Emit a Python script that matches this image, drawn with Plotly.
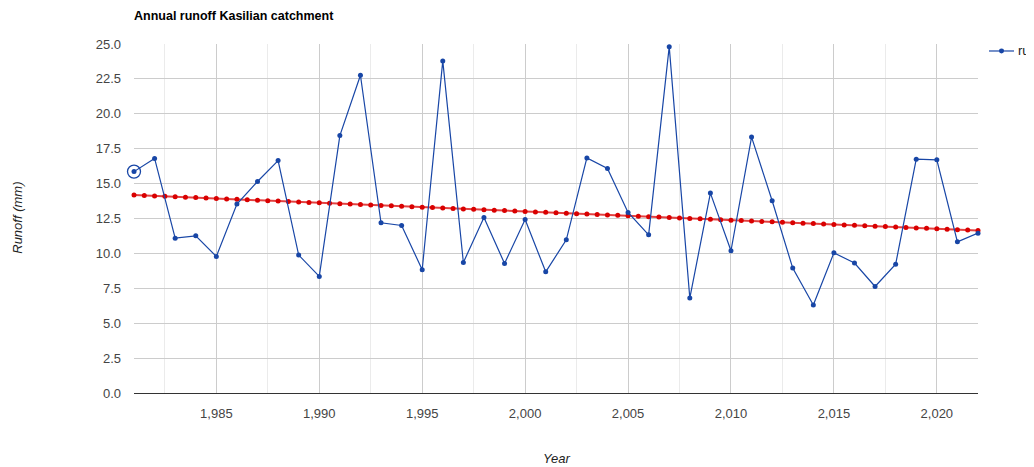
import numpy as np
import plotly.graph_objects as go

years = list(range(1981, 2023))
runoff = [15.86, 16.80, 11.09, 11.26, 9.78, 13.53, 15.15, 16.65, 9.88, 8.35,
          18.44, 22.76, 12.19, 12.00, 8.83, 23.79, 9.35, 12.57, 9.28, 12.43,
          8.68, 10.97, 16.84, 16.08, 12.93, 11.33, 24.81, 6.80, 14.32, 10.19,
          18.33, 13.77, 8.95, 6.30, 10.04, 9.31, 7.63, 9.23, 16.75, 16.70,
          10.83, 11.45]
xticks = [1985, 1990, 1995, 2000, 2005, 2010, 2015, 2020]
yticks = [0.0, 2.5, 5.0, 7.5, 10.0, 12.5, 15.0, 17.5, 20.0, 22.5, 25.0]
series_name = "runoff"

OFF = 8  # default page body margin
W, H = 1034 - OFF, 467 - OFF
L, R, T, B = 134 - OFF, 978 - OFF, 44 - OFF, 393.5 - OFF

# linear trendline (least squares) evaluated on a half-year grid
slope, intercept = np.polyfit(years, runoff, 1)
tx = np.arange(years[0], years[-1] + 0.001, 0.5)
ty = slope * tx + intercept

BLUE = "#1846a6"
RED = "#d90000"
FONT = "Arial, Liberation Sans, sans-serif"

fig = go.Figure()
fig.add_trace(go.Scatter(
    x=tx, y=ty, mode="lines+markers", showlegend=False, hoverinfo="skip",
    cliponaxis=False,
    line=dict(color="rgba(217,0,0,0.75)", width=2),
    marker=dict(color=RED, size=5)))
fig.add_trace(go.Scatter(
    x=years, y=runoff, mode="lines+markers", name=series_name, cliponaxis=False,
    showlegend=False,
    line=dict(color=BLUE, width=1.2),
    marker=dict(color=BLUE, size=5)))
fig.add_trace(go.Scatter(
    x=[years[0]], y=[runoff[0]], mode="markers", showlegend=False, hoverinfo="skip",
    cliponaxis=False,
    marker=dict(symbol="circle-open", color=BLUE, size=13, line=dict(width=1.3))))

def px(x):
    return (x - OFF - L) / (R - L)

def py(y):
    return (B - (y - OFF)) / (B - T)

# legend drawn by hand so its text is cut at the page edge like the reference
leg_y = py(51)
shapes = [
    dict(type="line", xref="paper", yref="paper", x0=px(989), x1=px(1014),
         y0=leg_y, y1=leg_y, line=dict(color=BLUE, width=1.2)),
    dict(type="circle", xref="paper", yref="paper",
         x0=px(999), x1=px(1004), y0=py(53.5), y1=py(48.5),
         fillcolor=BLUE, line=dict(width=0)),
]

fig.update_layout(
    width=W, height=H,
    margin=dict(l=L, r=W - R, t=T, b=H - B, autoexpand=False, pad=0),
    plot_bgcolor="white", paper_bgcolor="white",
    font=dict(family=FONT, size=13, color="#444"),
    title=dict(text="<b>Annual runoff Kasilian catchment</b>",
               font=dict(family=FONT, size=12.5, color="#000"),
               xref="container", x=L / W, xanchor="left",
               yref="container", y=1 - (16 - OFF) / H, yanchor="middle"),
    showlegend=False,
    shapes=shapes,
    xaxis=dict(range=[years[0], years[-1]], tickvals=xticks,
               ticktext=[f"{v:,}" for v in xticks],
               showgrid=True, gridcolor="#cccccc", gridwidth=1,
               minor=dict(dtick=2.5, tick0=1985, showgrid=True, gridcolor="#ebebeb"),
               showline=True, linecolor="#333333", linewidth=1,
               zeroline=False, ticks="", ticklabelstandoff=8),
    yaxis=dict(range=[0, 25], tickvals=yticks,
               ticktext=[f"{v:.1f}" for v in yticks],
               showgrid=True, gridcolor="#cccccc", gridwidth=1,
               zeroline=False, ticks="", ticklabelstandoff=12),
    annotations=[
        dict(text="<i>Runoff (mm)</i>", xref="paper", yref="paper",
             x=px(18), y=py(218), textangle=-90, showarrow=False,
             font=dict(family=FONT, size=13, color="#222"),
             xanchor="center", yanchor="middle"),
        dict(text="<i>Year</i>", xref="paper", yref="paper",
             x=px(556), y=py(459), showarrow=False,
             font=dict(family=FONT, size=13, color="#222"),
             xanchor="center", yanchor="middle"),
        dict(text=series_name, xref="paper", yref="paper",
             x=px(1017), y=leg_y, showarrow=False, borderpad=0,
             font=dict(family=FONT, size=13, color="#222"),
             xanchor="left", yanchor="middle"),
    ],
)

fig.write_html("out.html")
